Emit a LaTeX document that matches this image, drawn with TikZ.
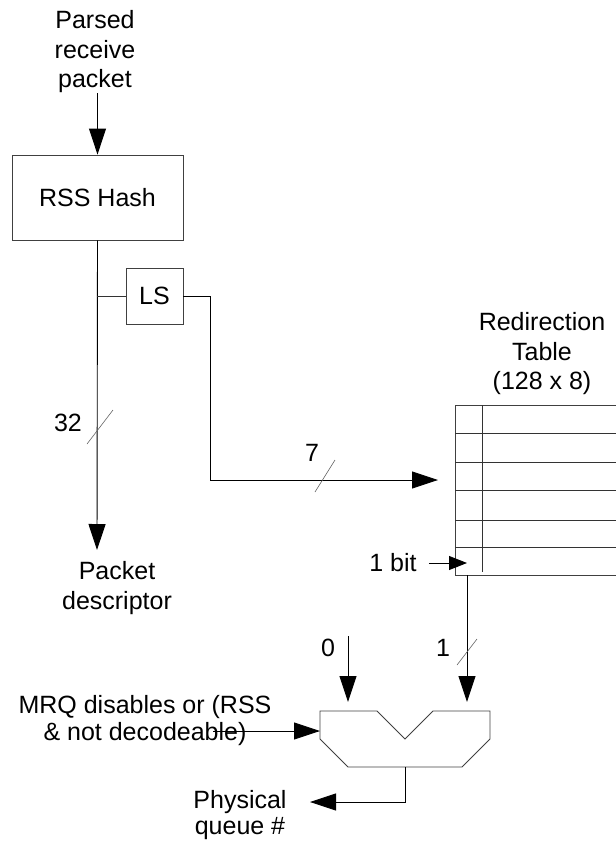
\documentclass[tikz,border=0pt]{standalone}
\usepackage{fontspec}
\setmainfont{Liberation Sans}
\usetikzlibrary{positioning, arrows.meta}

\begin{document}
\begin{tikzpicture}[
  x=1pt, y=-1pt,
  every node/.style = {font=\fontsize{25}{29.5}\selectfont, align=center, inner sep=0pt},
  box/.style = {draw=black!75, line width=0.9pt},
  wire/.style = {draw=black!80, line width=0.9pt},
  arr/.style = {-{Triangle[length=26pt,width=17pt]}, line width=0.9pt},
  arrs/.style = {-{Triangle[length=18pt,width=14pt]}, line width=0.9pt},
  slash/.style = {draw=black!60, line width=0.6pt}
]
\useasboundingbox (0,0) rectangle (616,844);

% Hash stage
\node (parsed) at (95,52) {Parsed\\receive\\packet};
\node (hash) [box, minimum width=171pt, minimum height=85pt] at (97.5,197.5) {RSS Hash};
\node (ls) [box, minimum width=57pt, minimum height=56pt] at (154.5,296) {LS};
\node (desc) at (117,588) {Packet\\descriptor};
\coordinate (tap) at (97,296);
\coordinate (dtip) at (97,550);
\coordinate (bend) at (210,480);
\coordinate (tin) at (438,480);

% Redirection table
\node (ttl) at (542,354) {Redirection\\Table\\(128 x 8)};
\node (tbl) [box, minimum width=200pt, minimum height=170pt] at (555,490) {};
\foreach \y in {433,462,490,520,547}
  \draw[wire] (455,\y) -- (616,\y);
\draw[wire] (482,405) -- (482,572);
\node (bit) at (393,563) {1 bit};
\coordinate (bitin) at (467,563);

% Multiplexer
\draw[box] (320,711) -- (377,711) -- (405,739) -- (433,711) -- (490,711)
  -- (490,739) -- (462,767) -- (348,767) -- (320,739) -- cycle;
\coordinate (in0) at (348,702);
\coordinate (in1) at (467,702);
\coordinate (sel) at (320,731);
\coordinate (out) at (405,767);
\coordinate (src0) at (348,636);
\coordinate (selsrc) at (213,731);
\coordinate (qtip) at (310,802);
\node (zero) at (328,648) {0};
\node (one) at (443,648) {1};
\node (mrq) [font=\fontsize{25}{27}\selectfont] at (145,721) {MRQ disables or (RSS\\\& not decodeable)};
\node (phys) [font=\fontsize{25}{26}\selectfont] at (240,815) {Physical\\queue \#};

% Edges
\draw[arr] (parsed.south -| hash.north) -- (hash.north);
\draw[arr] (hash.south) -- (dtip);
\draw[wire] (tap) -- (ls.west);
\draw[arr] (ls.east) -| (bend) -- (tin);
\draw[arrs, shorten <=12pt] (bit.east) -- (bitin);
\draw[arr] (bitin |- tbl.south) -- (in1);
\draw[arr] (src0) -- (in0);
\draw[arr] (selsrc) -- (sel);
\draw[arr] (out) |- (qtip);

% Bus widths
\draw[slash] (100,427) ++(-13,17) -- ++(26,-34);
\node (w32) at (68,423) {32};
\draw[slash] (325,476) ++(-10,16) -- ++(20,-32);
\node (w7) at (312,453) {7};
\draw[slash] (467,652) ++(-10,13) -- ++(20,-26);

\end{tikzpicture}
\end{document}
